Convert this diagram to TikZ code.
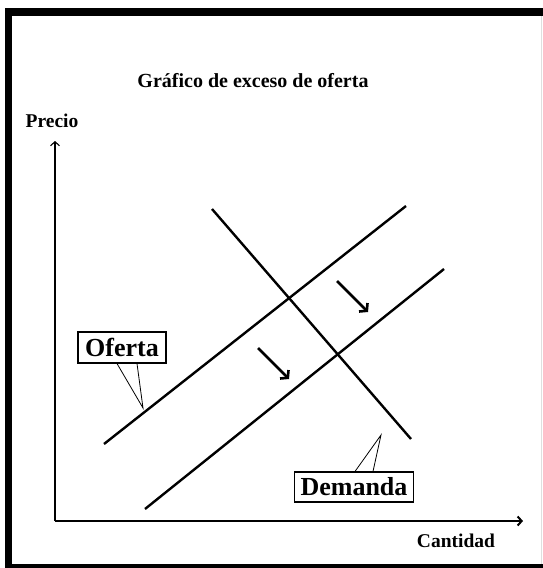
\documentclass[tikz,border=0pt]{standalone}
\usepackage{fontspec}
\setmainfont{Liberation Serif}
\usetikzlibrary{arrows.meta}

\begin{document}
\begin{tikzpicture}[x=1pt, y=-1pt,
  axis/.style={line width=1.1pt},
  curve/.style={line width=2.4pt},
  shiftarrow/.style={line width=2.6pt, -{Straight Barb[length=5pt,width=12pt]}},
  tag/.style={draw, line width=1.1pt, font=\fontsize{26}{28}\selectfont\bfseries, inner xsep=6pt, inner ysep=0pt},
  callout/.style={line width=0.8pt}]
\useasboundingbox (0,0) rectangle (543,568);
\fill (5,8) rectangle (543,16); % top frame
\fill (5,8) rectangle (12,568); % left frame
\fill (5,564) rectangle (543,568); % bottom frame
\draw[gray!25, line width=1pt] (541.5,16) -- (541.5,564); % right edge
\node[anchor=base, font=\fontsize{20}{22}\selectfont\bfseries] (title) at (253,87) {Gráfico de exceso de oferta}; % title
\coordinate (O) at (55,521);
\coordinate (ytop) at (55,141);
\coordinate (xend) at (523,521);
\draw[axis, -{Straight Barb[length=4pt,width=9pt]}] (O) -- (ytop); % precio axis
\draw[axis, -{Straight Barb[length=4pt,width=9pt,line width=2pt]}] (O) -- (xend); % cantidad axis
\node[anchor=base, font=\fontsize{19.5}{22}\selectfont\bfseries] (precio) at (52,127) {Precio};
\node[anchor=base, font=\fontsize{19.5}{22}\selectfont\bfseries] (cantidad) at (456,547) {Cantidad};
\coordinate (of1a) at (104,444);
\coordinate (of1b) at (406,206);
\coordinate (of2a) at (145,509);
\coordinate (of2b) at (444,269);
\coordinate (dea) at (212,209);
\coordinate (deb) at (411,439);
\draw[curve] (of1a) -- (of1b); % oferta
\draw[curve] (of2a) -- (of2b); % nueva oferta
\draw[curve] (dea) -- (deb); % demanda
\coordinate (ar1a) at (337,281);
\coordinate (ar1b) at (368,312);
\coordinate (ar2a) at (258,348);
\coordinate (ar2b) at (289,379);
\draw[shiftarrow] (ar1a) -- (ar1b); % upper shift arrow
\draw[shiftarrow] (ar2a) -- (ar2b); % lower shift arrow
\node[tag, minimum width=88pt, minimum height=31pt] (oferta) at (122,347.5) {Oferta};
\node[tag, minimum width=118pt, minimum height=30pt] (demanda) at (354,487) {Demanda};
\coordinate (oftip) at (143,408);
\coordinate (detip) at (381,435);
\draw[callout] ([xshift=-5pt]oferta.south) -- (oftip) -- ([xshift=15pt]oferta.south); % oferta callout
\draw[callout] ([xshift=1pt]demanda.north) -- (detip) -- ([xshift=19pt]demanda.north); % demanda callout
\end{tikzpicture}
\end{document}
